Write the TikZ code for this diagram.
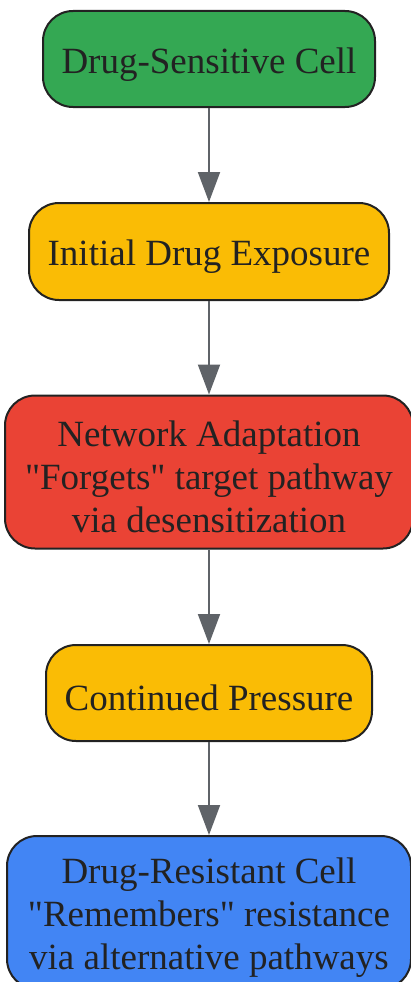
\documentclass[tikz,border=0pt]{standalone}
\usepackage{fontspec}
\setmainfont{Liberation Serif}
\usetikzlibrary{arrows.meta}

\definecolor{cellgreen}{RGB}{52,168,83}
\definecolor{cellyellow}{RGB}{250,188,5}
\definecolor{cellred}{RGB}{234,67,53}
\definecolor{cellblue}{RGB}{66,133,244}
\definecolor{edgegray}{RGB}{95,99,104}
\definecolor{inkdark}{RGB}{34,34,34}

\newcommand{\toppad}{\rule{0pt}{36pt}}

\tikzset{every picture/.style={line width=2pt}}
\tikzset{
  stagebox/.style={draw=inkdark, rounded corners=30pt, align=center, text=inkdark,
    font=\fontsize{37}{43}\selectfont, inner sep=0pt},
  flowarrow/.style={draw=edgegray, line width=2pt, -{Triangle[length=30pt,width=22pt]}}
}

\begin{document}
\begin{tikzpicture}[x=1pt,y=1pt,yscale=-1,xscale=1]
\useasboundingbox (0,0) rectangle (410,982);

% Stage nodes
\node (sensitive) [stagebox, fill=cellgreen, minimum width=332pt, minimum height=96pt] at (209,59) {\toppad Drug-Sensitive Cell};
\node (exposure) [stagebox, fill=cellyellow, minimum width=360pt, minimum height=97pt] at (209,251.5) {\toppad Initial Drug Exposure};
\node (adapt) [stagebox, fill=cellred, minimum width=408pt, minimum height=153pt] at (209,472) {\toppad Network Adaptation\\\textquotedbl Forgets\textquotedbl{} target pathway\\via desensitization};
\node (pressure) [stagebox, fill=cellyellow, minimum width=326pt, minimum height=96pt] at (209,693) {\toppad Continued Pressure};
\node (resistant) [stagebox, fill=cellblue, minimum width=404pt, minimum height=153pt] at (209,912.5) {\toppad Drug-Resistant Cell\\\textquotedbl Remembers\textquotedbl{} resistance\\via alternative pathways};

% Connectors
\draw [flowarrow] (sensitive) -- (exposure);
\draw [flowarrow] (exposure) -- (adapt);
\draw [flowarrow] (adapt) -- (pressure);
\draw [flowarrow] (pressure) -- (resistant);

\end{tikzpicture}
\end{document}
